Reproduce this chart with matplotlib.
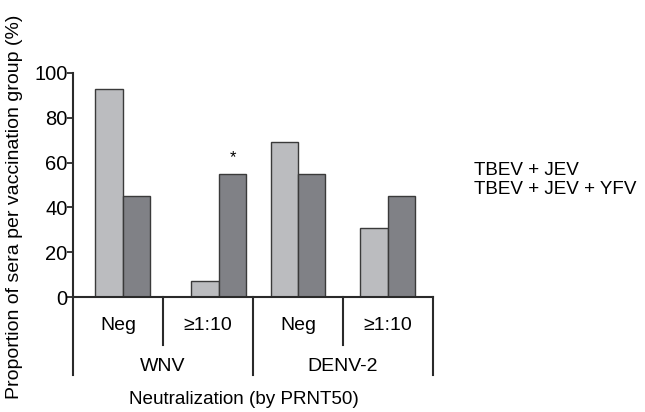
import matplotlib.pyplot as plt
import matplotlib.transforms as mtransforms

plt.rcParams['font.family'] = ['Liberation Sans', 'DejaVu Sans']

# proportions
categories = ['Neg', '\u22651:10', 'Neg', '\u22651:10']
groups = ['WNV', 'DENV-2']
series_names = ['TBEV + JEV', 'TBEV + JEV + YFV']
tbev_jev = [93, 7, 69, 31]
tbev_jev_yfv = [45, 55, 55, 45]
yticks = [0, 20, 40, 60, 80, 100]

light = '#bbbcbf'
dark = '#808186'
edge = '#3a3a3a'
axcol = '#2a2a2a'

fig = plt.figure(figsize=(6.45, 4.12), dpi=100)
ax = fig.add_axes([0.1132, 0.279, 0.558, 0.544])

# bar pairs sit slightly off the category centres in the original
centres = [0.05, 1.12, 2.0, 3.0]
w = 0.305
ax.bar([c - w / 2 for c in centres], tbev_jev, width=w, color=light,
       edgecolor=edge, linewidth=1.0)
ax.bar([c + w / 2 for c in centres], tbev_jev_yfv, width=w, color=dark,
       edgecolor=edge, linewidth=1.0)

# significance mark
ax.text(centres[1] + w / 2, tbev_jev_yfv[1] + 4, '*', ha='center',
        va='bottom', fontsize=12)

ax.set_xlim(-0.5, 3.5)
ax.set_ylim(0, 100)
ax.set_yticks(yticks)
ax.tick_params(axis='y', direction='out', length=4, width=1.3, color=axcol,
               labelsize=14.5, pad=0)
ax.set_xticks([])
for s in ['top', 'right']:
    ax.spines[s].set_visible(False)
ax.spines['left'].set_linewidth(1.5)
ax.spines['bottom'].set_linewidth(1.5)
ax.spines['left'].set_color(axcol)
ax.spines['bottom'].set_color(axcol)

# category table under the axis
trans = mtransforms.blended_transform_factory(ax.transData, ax.transAxes)
for xd in [-0.5, 1.5, 3.5]:
    ax.plot([xd, xd], [0, -0.348], transform=trans, color=axcol, lw=1.5,
            clip_on=False)
for xd in [0.5, 2.5]:
    ax.plot([xd, xd], [0, -0.214], transform=trans, color=axcol, lw=1.5,
            clip_on=False)

for i, lab in enumerate(categories):
    ax.text(i, -0.125, lab, transform=trans, ha='center', va='center',
            fontsize=14)
for j, g in enumerate(groups):
    ax.text(2 * j + 0.5, -0.308, g, transform=trans, ha='center',
            va='center', fontsize=14)

ax.text(1.4, -0.455, 'Neutralization (by PRNT50)', transform=trans,
        ha='center', va='center', fontsize=13.6)

fig.text(0.022, 0.497, 'Proportion of sera per vaccination group (%)',
         rotation=90, ha='center', va='center', fontsize=14)

# legend (text only, as in the source)
fig.text(0.735, 0.587, series_names[0], ha='left', va='center', fontsize=13.6)
fig.text(0.735, 0.541, series_names[1], ha='left', va='center', fontsize=13.6)

fig.savefig('out.png', dpi=100)
